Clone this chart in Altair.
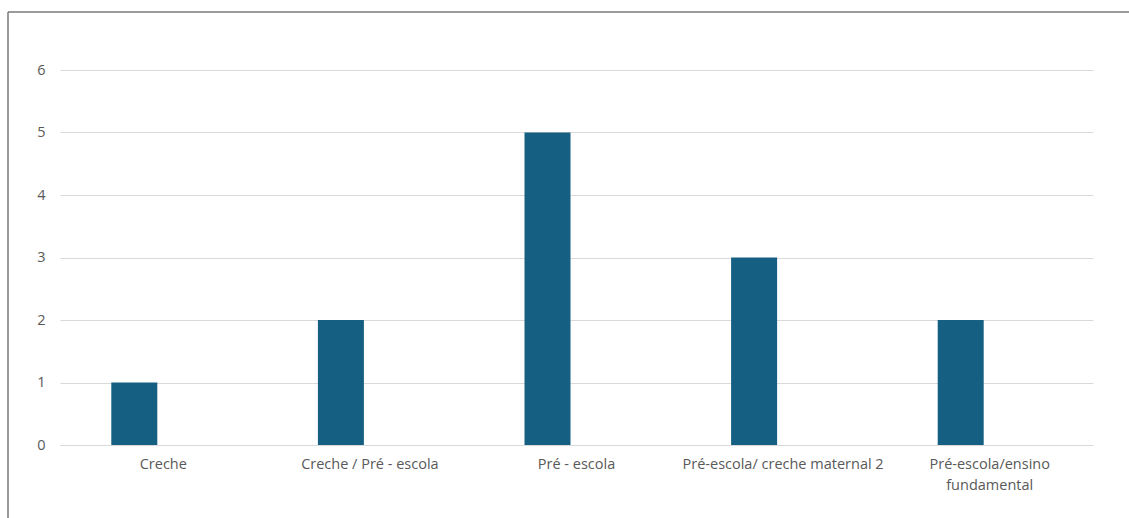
import altair as alt
import pandas as pd

categories = [
    "Creche",
    "Creche / Pré - escola",
    "Pré - escola",
    "Pré-escola/ creche maternal 2",
    "Pré-escola/ensino fundamental",
]
values = [1, 2, 5, 3, 2]

df = pd.DataFrame({"categoria": categories, "valor": values})

FONT = "Open Sans"
LABEL_COLOR = "#595959"

label_expr = (
    "datum.value == 'Pré-escola/ensino fundamental' ? "
    "['Pré-escola/ensino', 'fundamental'] : datum.value"
)

bars = (
    alt.Chart(df)
    .mark_bar(color="#156082", size=46, xOffset=-29)
    .encode(
        x=alt.X(
            "categoria:N",
            sort=categories,
            scale=alt.Scale(paddingInner=0, paddingOuter=0),
            axis=alt.Axis(
                title=None,
                labelAngle=0,
                labelExpr=label_expr,
                labelFont=FONT,
                labelFontSize=14.5,
                labelColor=LABEL_COLOR,
                labelPadding=12,
                labelLineHeight=21,
                labelBaseline="top",
                ticks=False,
                domain=True,
                domainColor="#D9D9D9",
                domainWidth=1,
                grid=False,
                labelLimit=300,
            ),
        ),
        y=alt.Y(
            "valor:Q",
            scale=alt.Scale(domain=[0, 6], nice=False),
            axis=alt.Axis(
                title=None,
                values=[0, 1, 2, 3, 4, 5, 6],
                format="d",
                labelFont=FONT,
                labelFontSize=14.5,
                labelColor=LABEL_COLOR,
                labelPadding=15,
                ticks=False,
                domain=False,
                grid=True,
                gridColor="#D9D9D9",
                gridWidth=1,
            ),
        ),
    )
)

frame_df = pd.DataFrame({"a": [0]})
left_border = (
    alt.Chart(frame_df)
    .mark_rule(color="#7a7a7a", strokeWidth=1.5)
    .encode(x=alt.value(-52), y=alt.value(-58), y2=alt.value(460))
)
top_border = (
    alt.Chart(frame_df)
    .mark_rule(color="#7a7a7a", strokeWidth=1.5)
    .encode(x=alt.value(-52), x2=alt.value(1080), y=alt.value(-58))
)

chart = (
    alt.layer(bars, left_border, top_border)
    .properties(
        width=1033,
        height=375,
        autosize=alt.AutoSizeParams(type="none"),
        padding={"left": 60, "top": 70, "right": 36, "bottom": 73},
        background="white",
    )
    .configure_view(stroke=None)
)

chart.save("out.html", embed_options={"renderer": "svg", "actions": False})
